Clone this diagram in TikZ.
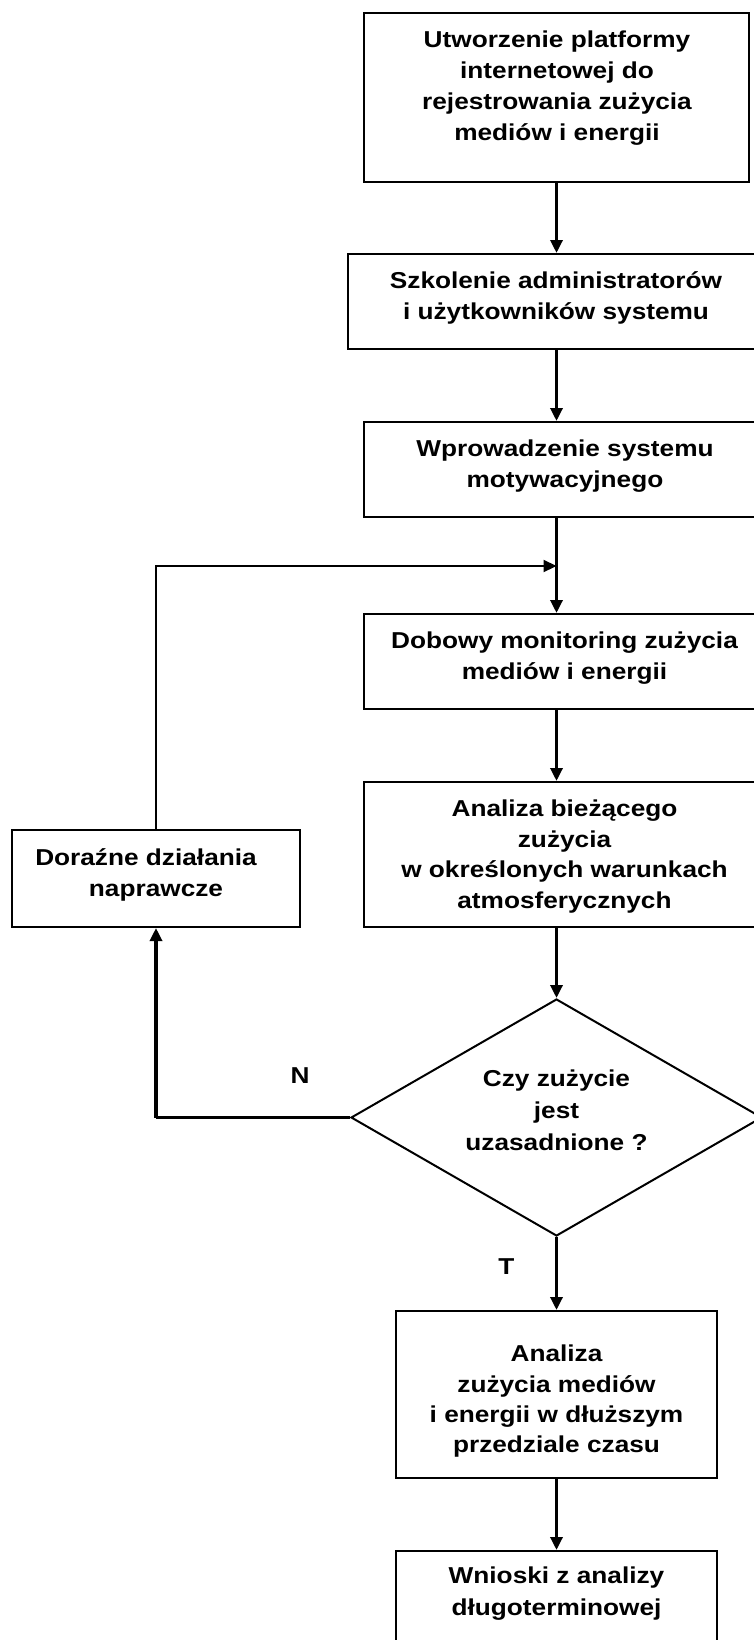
\documentclass[tikz,border=0pt]{standalone}
\usepackage{fontspec}
\setmainfont{Liberation Sans}[FakeStretch=1.14]
\usetikzlibrary{arrows.meta,shapes.geometric}
\begin{document}
\begin{tikzpicture}[x=1pt,y=-1pt,
  box/.style={draw,line width=2pt,rectangle,inner sep=0pt},
  txt/.style={font=\fontsize{23}{31}\selectfont\bfseries,align=center,inner sep=0pt,anchor=north},
  flow/.style={line width=3.2pt,-{Triangle[length=13pt,width=12pt]}},
  thinflow/.style={line width=2.2pt,-{Triangle[length=13pt,width=12pt]}},
  loopline/.style={line width=2.2pt},
  lbl/.style={font=\fontsize{23}{26}\selectfont\bfseries,inner sep=0pt}]
\useasboundingbox (0,0) rectangle (754,1640);
\clip (0,0) rectangle (754,1640);
\fill[white] (0,0) rectangle (754,1640);

% boxes
\node[box,minimum width=385pt,minimum height=169pt] (b1) at (556.5,97.5) {};
\node[box,minimum width=416pt,minimum height=95pt] (b2) at (556,301.5) {};
\node[box,minimum width=402pt,minimum height=95pt] (b3) at (565,469.5) {};
\node[box,minimum width=402pt,minimum height=95pt] (b4) at (565,661.5) {};
\node[box,minimum width=402pt,minimum height=145pt] (b5) at (565,854.5) {};
\node[box,minimum width=288pt,minimum height=97pt] (d) at (156,878.5) {};
\node[draw,line width=2pt,diamond,inner sep=0pt,minimum width=411pt,minimum height=237pt] (q) at (556.5,1117.5) {};
\node[box,minimum width=321pt,minimum height=167pt] (b6) at (556.5,1394.5) {};
\node[box,minimum width=321pt,minimum height=149pt] (b7) at (556.5,1625.5) {};

% texts
\node[txt] (t1) at (557,23.5) {\rule{0pt}{24pt}Utworzenie platformy\\internetowej do\\rejestrowania zużycia\\mediów i energii};
\node[txt] (t2) at (556,264) {\rule{0pt}{24pt}Szkolenie administratorów\\i użytkowników systemu};
\node[txt] (t3) at (565,432.7) {\rule{0pt}{24pt}Wprowadzenie systemu\\motywacyjnego};
\node[txt] (t4) at (564.5,624.3) {\rule{0pt}{24pt}Dobowy monitoring zużycia\\mediów i energii};
\node[txt,font=\fontsize{23}{30.5}\selectfont\bfseries] (t5) at (564.5,792.7) {\rule{0pt}{24pt}Analiza bieżącego\\zużycia\\w określonych warunkach\\atmosferycznych};
\node[txt,font=\fontsize{23}{31.7}\selectfont\bfseries] (td) at (156,841) {\rule{0pt}{24pt}Doraźne działania\rule{20pt}{0pt}\\naprawcze};
\node[txt,font=\fontsize{23}{31.6}\selectfont\bfseries] (tq) at (556.5,1062.7) {\rule{0pt}{24pt}Czy zużycie\\jest\\uzasadnione ?};
\node[txt,font=\fontsize{23}{30.2}\selectfont\bfseries] (t6) at (556.5,1337.7) {\rule{0pt}{24pt}Analiza\\zużycia mediów\\i energii w dłuższym\\przedziale czasu};
\node[txt,font=\fontsize{23}{32}\selectfont\bfseries] (t7) at (556.5,1559) {\rule{0pt}{24pt}Wnioski z analizy\\długoterminowej};

% labels
\node[lbl] (ln) at (300,1076) {N};
\node[lbl] (lt) at (506.5,1267) {T};

% spine coordinates
\coordinate (spine) at (556.5,0);
\coordinate (join) at (556.5,566);

% main connectors
\draw[flow] (spine |- b1.south) -- (spine |- b2.north);
\draw[flow] (spine |- b2.south) -- (spine |- b3.north);
\draw[flow] (spine |- b3.south) -- (spine |- b4.north);
\draw[flow] (spine |- b4.south) -- (spine |- b5.north);
\draw[flow] (spine |- b5.south) -- (q.north);
\draw[flow] (q.south) -- (spine |- b6.north);
\draw[flow] (spine |- b6.south) -- (spine |- b7.north);

% feedback loop
\draw[loopline] (q.west) -- (q.west -| d.south);
\draw[flow] (q.west -| d.south) -- (d.south);
\draw[thinflow] (d.north) |- (join);
\end{tikzpicture}
\end{document}
